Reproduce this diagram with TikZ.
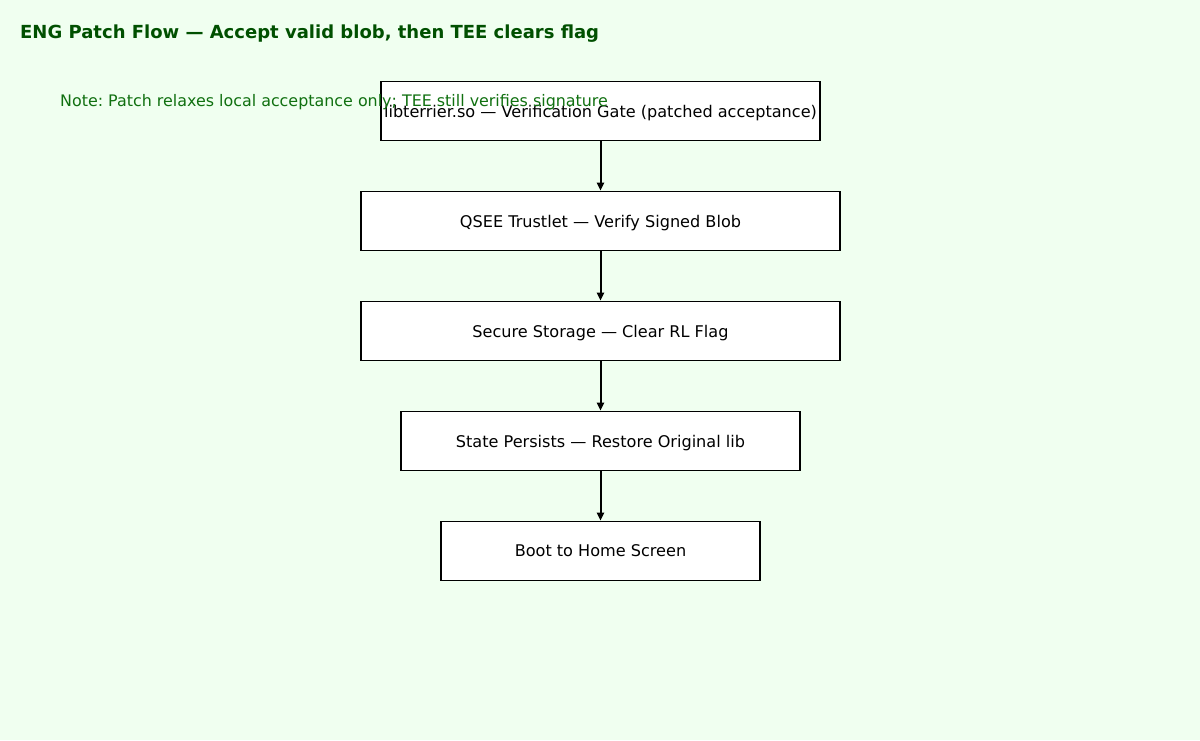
\documentclass[tikz,border=0pt]{standalone}
\usepackage{fontspec}
\setmainfont{DejaVu Sans}
\usetikzlibrary{arrows.meta}
\definecolor{bg}{HTML}{F0FFF0}
\definecolor{titlegreen}{HTML}{005000}
\definecolor{notegreen}{HTML}{107010}
\frenchspacing
\tikzset{
  box/.style={draw=black, line width=1.6pt, fill=white, minimum height=59pt, inner sep=0pt, text depth=0pt, font=\fontsize{16.1}{19}\selectfont},
  flow/.style={line width=2pt, -{Triangle[length=8pt,width=7pt]}},
}
\begin{document}
\begin{tikzpicture}[x=1pt,y=-1pt]
\fill[bg] (0,0) rectangle (1200,740);
\useasboundingbox (0,0) rectangle (1200,740);
\node[anchor=west, text=titlegreen, inner sep=0pt, font=\fontsize{18}{21}\selectfont\bfseries] (title) at (20,33.5) {ENG Patch Flow — Accept valid blob, then TEE clears flag};
\node[box, minimum width=439pt] (b1) at (600.5,111) {libterrier.so — Verification Gate (patched acceptance)};
\node[anchor=west, text=notegreen, font=\fontsize{15.9}{19}\selectfont, inner sep=0pt] (note) at (60,102) {Note: Patch relaxes local acceptance only; TEE still verifies signature};
\node[box, minimum width=479pt] (b2) at (600.5,221) {QSEE Trustlet — Verify Signed Blob};
\node[box, minimum width=479pt] (b3) at (600.5,331) {Secure Storage — Clear RL Flag};
\node[box, minimum width=399pt] (b4) at (600.5,441) {State Persists — Restore Original lib};
\node[box, minimum width=319pt] (b5) at (600.5,551) {Boot to Home Screen};
\draw[flow] (b1) -- (b2);
\draw[flow] (b2) -- (b3);
\draw[flow] (b3) -- (b4);
\draw[flow] (b4) -- (b5);
\end{tikzpicture}
\end{document}
